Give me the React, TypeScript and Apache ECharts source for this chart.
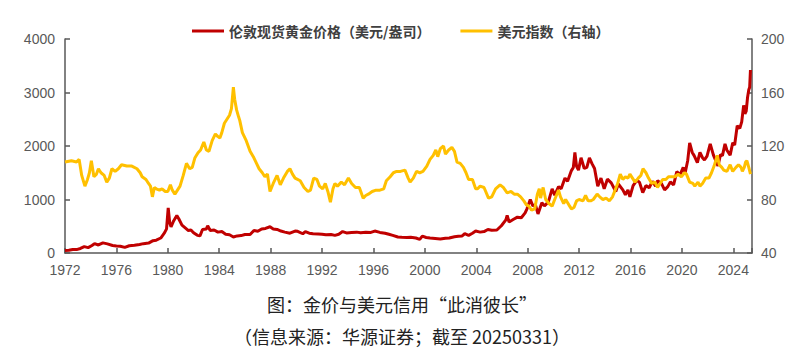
import React, { useEffect, useRef } from "react";
import * as echarts from "echarts";

const legendNames = ["伦敦现货黄金价格（美元/盎司）", "美元指数（右轴）"];
const captionLines = ["图：金价与美元信用“此消彼长”", "（信息来源：华源证券；截至 20250331）"];
const leftTicks = { min: 0, max: 4000, interval: 1000 };
const rightTicks = { min: 40, max: 200, interval: 40 };
const yearRange = { min: 1972, max: 2025.45, interval: 4 };

// [year, USD/oz]
const goldPrice: [number, number][] = [
  [1972.0, 46], [1972.3, 50], [1972.6, 65], [1972.9, 64], [1973.2, 85], [1973.5, 120], [1973.8, 100],
  [1974.1, 140], [1974.3, 175], [1974.6, 150], [1974.95, 190], [1975.3, 170], [1975.7, 140], [1976.0, 130],
  [1976.3, 125], [1976.65, 105], [1977.0, 135], [1977.4, 145], [1977.8, 160], [1978.1, 175], [1978.5, 185],
  [1978.85, 230], [1979.1, 240], [1979.45, 280], [1979.75, 380], [1979.9, 450], [1980.03, 845], [1980.15, 560],
  [1980.25, 490], [1980.45, 600], [1980.7, 700], [1980.85, 640], [1981.1, 520], [1981.4, 460], [1981.6, 420],
  [1981.8, 430], [1982.0, 380], [1982.3, 330], [1982.5, 320], [1982.7, 440], [1983.0, 450], [1983.1, 510],
  [1983.3, 420], [1983.6, 430], [1983.9, 390], [1984.2, 400], [1984.5, 350], [1984.8, 340], [1985.1, 300],
  [1985.4, 320], [1985.7, 325], [1986.0, 345], [1986.4, 345], [1986.7, 420], [1987.0, 405], [1987.3, 450],
  [1987.6, 460], [1987.95, 490], [1988.2, 450], [1988.5, 440], [1988.8, 410], [1989.1, 390], [1989.5, 370],
  [1989.9, 410], [1990.1, 405], [1990.5, 360], [1990.7, 400], [1991.0, 370], [1991.3, 360], [1991.7, 355],
  [1992.0, 350], [1992.3, 340], [1992.7, 345], [1993.0, 330], [1993.3, 350], [1993.6, 400], [1993.9, 375],
  [1994.3, 385], [1994.7, 390], [1995.0, 380], [1995.4, 390], [1995.8, 385], [1996.1, 410], [1996.5, 385],
  [1996.9, 370], [1997.2, 350], [1997.5, 330], [1997.9, 300], [1998.2, 295], [1998.6, 290], [1998.9, 295],
  [1999.3, 280], [1999.6, 255], [1999.8, 315], [2000.1, 290], [2000.4, 280], [2000.8, 270], [2001.2, 260],
  [2001.6, 275], [2001.9, 280], [2002.3, 305], [2002.6, 315], [2002.9, 320], [2003.1, 360], [2003.4, 330],
  [2003.7, 370], [2003.95, 410], [2004.3, 390], [2004.6, 400], [2004.9, 440], [2005.2, 425], [2005.6, 430],
  [2005.95, 510], [2006.3, 620], [2006.4, 700], [2006.55, 580], [2006.9, 630], [2007.2, 670], [2007.5, 660],
  [2007.8, 750], [2007.95, 830], [2008.2, 1000], [2008.4, 880], [2008.6, 900], [2008.8, 730], [2009.1, 940],
  [2009.3, 880], [2009.6, 950], [2009.9, 1200], [2010.1, 1080], [2010.4, 1240], [2010.6, 1200], [2010.9, 1400],
  [2011.1, 1340], [2011.4, 1540], [2011.55, 1600], [2011.67, 1880], [2011.8, 1620], [2011.95, 1550],
  [2012.15, 1780], [2012.4, 1580], [2012.6, 1600], [2012.8, 1780], [2013.0, 1670], [2013.2, 1580],
  [2013.45, 1250], [2013.7, 1400], [2013.95, 1200], [2014.2, 1380], [2014.5, 1310], [2014.85, 1150],
  [2015.05, 1290], [2015.4, 1180], [2015.6, 1090], [2015.8, 1180], [2015.95, 1050], [2016.2, 1260],
  [2016.5, 1360], [2016.7, 1320], [2016.95, 1130], [2017.2, 1260], [2017.45, 1220], [2017.7, 1340],
  [2017.95, 1250], [2018.1, 1350], [2018.4, 1300], [2018.65, 1180], [2018.9, 1240], [2019.1, 1330],
  [2019.35, 1275], [2019.6, 1520], [2019.85, 1460], [2020.1, 1600], [2020.25, 1500], [2020.45, 1730],
  [2020.6, 2060], [2020.8, 1880], [2020.95, 1820], [2021.2, 1690], [2021.4, 1880], [2021.6, 1780],
  [2021.75, 1740], [2021.95, 1810], [2022.2, 2040], [2022.45, 1830], [2022.8, 1630], [2023.0, 1840],
  [2023.15, 1820], [2023.35, 2040], [2023.5, 1920], [2023.75, 1830], [2023.95, 2060], [2024.1, 2020],
  [2024.3, 2380], [2024.5, 2330], [2024.65, 2450], [2024.8, 2760], [2024.9, 2600], [2025.0, 2650],
  [2025.1, 2900], [2025.2, 3050], [2025.27, 3100], [2025.33, 3420],
];

// [year, index]
const dollarIndex: [number, number][] = [
  [1972.0, 108], [1972.5, 109], [1972.9, 108], [1973.1, 110], [1973.3, 98], [1973.55, 90], [1973.75, 95],
  [1973.9, 100], [1974.05, 109], [1974.25, 97], [1974.45, 99], [1974.6, 103], [1974.8, 100], [1975.05, 98],
  [1975.25, 93], [1975.45, 96], [1975.65, 103], [1975.9, 101], [1976.15, 103], [1976.4, 106], [1976.8, 105],
  [1977.2, 105], [1977.6, 103], [1977.85, 100], [1978.0, 97], [1978.3, 95], [1978.5, 92], [1978.65, 90],
  [1978.8, 82], [1978.95, 89], [1979.1, 88], [1979.35, 87], [1979.55, 88], [1979.8, 86], [1980.0, 86],
  [1980.2, 91], [1980.35, 87], [1980.55, 84], [1980.75, 87], [1980.95, 90], [1981.2, 98], [1981.45, 107],
  [1981.7, 103], [1981.9, 104], [1982.1, 111], [1982.35, 115], [1982.55, 117], [1982.8, 123], [1983.0, 117],
  [1983.2, 116], [1983.45, 124], [1983.7, 129], [1983.9, 127], [1984.05, 126], [1984.2, 130], [1984.4, 137],
  [1984.6, 140], [1984.8, 143], [1984.95, 148], [1985.1, 164], [1985.2, 155], [1985.35, 147], [1985.5, 142],
  [1985.6, 139], [1985.8, 130], [1986.1, 124], [1986.4, 116], [1986.65, 112], [1986.9, 107], [1987.1, 103],
  [1987.35, 100], [1987.55, 97], [1987.75, 99], [1987.95, 86], [1988.2, 92], [1988.5, 98], [1988.75, 91],
  [1989.0, 96], [1989.3, 101], [1989.5, 103], [1989.7, 99], [1989.9, 96], [1990.3, 94], [1990.6, 89],
  [1990.9, 86], [1991.1, 87], [1991.35, 96], [1991.6, 95], [1991.8, 90], [1992.05, 88], [1992.25, 92],
  [1992.45, 86], [1992.65, 78], [1992.85, 88], [1993.0, 92], [1993.2, 90], [1993.5, 93], [1993.75, 91],
  [1994.05, 96], [1994.3, 92], [1994.6, 89], [1994.9, 89], [1995.2, 81], [1995.4, 83], [1995.6, 84],
  [1995.9, 86], [1996.2, 87], [1996.5, 87], [1996.8, 88], [1997.0, 94], [1997.3, 97], [1997.55, 100],
  [1997.8, 101], [1998.1, 101], [1998.45, 102], [1998.7, 96], [1998.85, 93], [1999.1, 96], [1999.35, 101],
  [1999.6, 100], [1999.85, 101], [2000.15, 105], [2000.4, 110], [2000.65, 113], [2000.85, 117], [2001.0, 112],
  [2001.2, 118], [2001.45, 120], [2001.6, 114], [2001.85, 117], [2002.1, 119], [2002.3, 116], [2002.5, 108],
  [2002.75, 107], [2003.0, 104], [2003.2, 100], [2003.4, 95], [2003.7, 95], [2003.95, 88], [2004.1, 88],
  [2004.3, 90], [2004.6, 89], [2004.95, 81], [2005.2, 82], [2005.5, 88], [2005.85, 91], [2006.1, 89],
  [2006.4, 85], [2006.7, 86], [2006.95, 84], [2007.2, 84], [2007.45, 82], [2007.7, 79], [2007.9, 76],
  [2008.1, 75], [2008.3, 72], [2008.55, 73], [2008.75, 84], [2008.9, 88], [2009.0, 81], [2009.2, 89],
  [2009.4, 80], [2009.65, 77], [2009.9, 75], [2010.1, 80], [2010.4, 87], [2010.55, 82], [2010.8, 77],
  [2010.95, 80], [2011.2, 76], [2011.4, 73], [2011.6, 74], [2011.8, 79], [2012.0, 80], [2012.3, 79],
  [2012.5, 83], [2012.7, 79], [2012.9, 79], [2013.1, 80], [2013.4, 84], [2013.6, 82], [2013.85, 80],
  [2014.1, 81], [2014.35, 79], [2014.6, 82], [2014.8, 87], [2015.0, 92], [2015.2, 99], [2015.4, 95],
  [2015.6, 97], [2015.8, 96], [2015.95, 99], [2016.15, 96], [2016.35, 93], [2016.6, 96], [2016.8, 98],
  [2016.97, 103], [2017.2, 100], [2017.4, 96], [2017.65, 92], [2017.9, 93], [2018.1, 89], [2018.3, 92],
  [2018.5, 95], [2018.75, 95], [2018.95, 97], [2019.2, 97], [2019.45, 97], [2019.7, 99], [2019.95, 97],
  [2020.2, 100], [2020.35, 99], [2020.6, 93], [2020.85, 92], [2021.0, 90], [2021.25, 93], [2021.4, 90],
  [2021.6, 92], [2021.85, 96], [2022.1, 96], [2022.3, 100], [2022.5, 105], [2022.75, 113], [2022.9, 106],
  [2023.1, 104], [2023.25, 102], [2023.5, 101], [2023.75, 106], [2023.95, 101], [2024.2, 104], [2024.4, 106],
  [2024.6, 104], [2024.7, 101], [2024.85, 104], [2024.95, 108], [2025.05, 109], [2025.2, 104], [2025.33, 99],
];

export default function App() {
  const ref = useRef<HTMLDivElement>(null);
  useEffect(() => {
    if (!ref.current) return;
    const chart = echarts.init(ref.current, undefined, { renderer: "svg" });
    const axisColor = "#595959";
    const labelStyle = { color: "#595959", fontSize: 14, fontFamily: "Liberation Sans, Arial, sans-serif" };
    const plain = (v: number) => String(v);
    chart.setOption({
      animation: false,
      backgroundColor: "#ffffff",
      legend: {
        left: 187,
        top: 19,
        icon: "rect",
        itemWidth: 32,
        itemHeight: 3,
        itemGap: 30,
        textStyle: { color: "#404040", fontSize: 14, fontWeight: "bold", fontFamily: "Noto Sans CJK SC" },
        data: legendNames,
      },
      grid: { left: 65, right: 53, top: 39, bottom: 103 },
      xAxis: {
        type: "value",
        min: yearRange.min,
        max: yearRange.max,
        interval: yearRange.interval,
        axisLine: { show: true, lineStyle: { color: axisColor, width: 1.5 } },
        axisTick: { show: true, inside: true, length: 5, lineStyle: { color: axisColor, width: 1.5 } },
        axisLabel: {
          ...labelStyle,
          margin: 10,
          formatter: (v: number) => (v % 4 === 0 ? String(v) : ""),
        },
        splitLine: { show: false },
      },
      yAxis: [
        {
          type: "value",
          min: leftTicks.min,
          max: leftTicks.max,
          interval: leftTicks.interval,
          axisLine: { show: true, lineStyle: { color: axisColor, width: 1.5 } },
          axisTick: { show: true, inside: true, length: 5, lineStyle: { color: axisColor, width: 1.5 } },
          axisLabel: { ...labelStyle, margin: 10, formatter: plain },
          splitLine: { show: false },
        },
        {
          type: "value",
          position: "right",
          min: rightTicks.min,
          max: rightTicks.max,
          interval: rightTicks.interval,
          axisLine: { show: true, lineStyle: { color: axisColor, width: 1.5 } },
          axisTick: { show: true, inside: true, length: 5, lineStyle: { color: axisColor, width: 1.5 } },
          axisLabel: { ...labelStyle, margin: 9, formatter: plain },
          splitLine: { show: false },
        },
      ],
      series: [
        {
          name: legendNames[0],
          type: "line",
          yAxisIndex: 0,
          data: goldPrice,
          showSymbol: false,
          symbol: "none",
          lineStyle: { color: "#C00000", width: 3 },
          itemStyle: { color: "#C00000" },
        },
        {
          name: legendNames[1],
          type: "line",
          yAxisIndex: 1,
          data: dollarIndex,
          showSymbol: false,
          symbol: "none",
          lineStyle: { color: "#FFC000", width: 3 },
          itemStyle: { color: "#FFC000" },
        },
      ],
      graphic: [
        {
          type: "text",
          x: 402,
          y: 304,
          style: {
            text: captionLines[0],
            fill: "#222",
            fontSize: 18,
            fontFamily: "Noto Sans CJK SC",
            align: "center",
            verticalAlign: "middle",
          },
        },
        {
          type: "text",
          x: 402,
          y: 336,
          style: {
            text: captionLines[1],
            fill: "#222",
            fontSize: 18,
            fontFamily: "Noto Sans CJK SC",
            align: "center",
            verticalAlign: "middle",
          },
        },
      ],
    });
    return () => chart.dispose();
  }, []);
  return (
    <div
      ref={ref}
      style={{ position: "fixed", left: 0, top: 0, width: 805, height: 356, background: "#fff" }}
    />
  );
}
